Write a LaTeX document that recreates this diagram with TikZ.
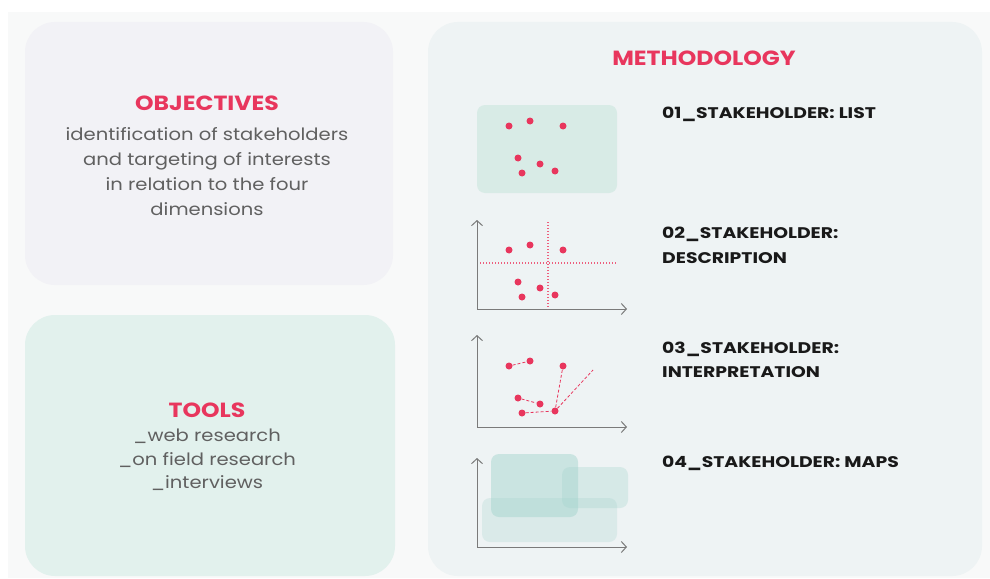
\documentclass[tikz,border=0pt]{standalone}
\usepackage{fontspec}
\setmainfont{Poppins}
\newfontfamily\widefont[FakeStretch=1.15]{Poppins}
\newfontfamily\capsfont[FakeStretch=1.22]{Poppins}
\usepackage{tikz}
\usetikzlibrary{arrows.meta,positioning,calc}

\definecolor{accent}{HTML}{E8365D}
\definecolor{pagegray}{HTML}{F8F9F9}
\definecolor{objfill}{HTML}{F2F2F6}
\definecolor{toolfill}{HTML}{E2F1ED}
\definecolor{methfill}{HTML}{EEF3F4}
\definecolor{listfill}{HTML}{D8EBE6}
\definecolor{mapteal}{HTML}{9FD2CB}
\definecolor{axisgray}{HTML}{7A7A7A}
\definecolor{bodygray}{HTML}{606060}

\tikzset{
  panel/.style={rounded corners=30pt, draw=none},
  heading/.style={text=accent, font=\widefont\bfseries\fontsize{20.5}{25}\selectfont},
  body/.style={text=bodygray, align=center},
  steplabel/.style={anchor=west, align=left, inner sep=0pt, text=black!90,
    font=\capsfont\bfseries\fontsize{15.4}{24.5}\selectfont},
  dot/.style={circle, fill=accent, inner sep=0pt, minimum size=7pt},
  axis/.style={draw=axisgray, line width=1pt,
    {Straight Barb[length=5pt,width=11pt]}-{Straight Barb[length=5pt,width=11pt]}},
  link/.style={draw=accent, dashed, line width=0.8pt, dash pattern=on 3pt off 2pt},
  cross/.style={draw=accent!80, line width=1.1pt, dash pattern=on 1pt off 2pt}
}

\begin{document}
\begin{tikzpicture}[x=1pt,y=-1pt]
\useasboundingbox (0,0) rectangle (990,578);
% Page
\fill[white] (0,0) rectangle (990,578);
\fill[pagegray] (8,12) rectangle (990,578);

% Panels
\fill[panel,objfill] (25,22) rectangle (393,285);
\fill[panel,toolfill] (25,315) rectangle (395,576);
\fill[panel,methfill] (428,22) rectangle (982,576);

% Objectives
\node[heading] (objtitle) at (207,103) {OBJECTIVES};
\node[body,font=\widefont\fontsize{17}{25}\selectfont] (objtext) at (207,172)
  {identification of stakeholders\\and targeting of interests\\in relation to the four\\dimensions};

% Tools
\node[heading] (tooltitle) at (207,410) {TOOLS};
\node[body,font=\widefont\fontsize{17}{23.5}\selectfont] (tooltext) at (207,460)
  {\_web research\\\_on field research\\\_interviews};

% Methodology
\node[heading] (methtitle) at (704,58) {METHODOLOGY};
\node[steplabel] (step1) at (662,114) {01\_STAKEHOLDER: LIST};
\node[steplabel] (step2) at (662,245.5) {02\_STAKEHOLDER:\\DESCRIPTION};
\node[steplabel] (step3) at (662,360) {03\_STAKEHOLDER:\\INTERPRETATION};
\node[steplabel] (step4) at (662,463) {04\_STAKEHOLDER: MAPS};

% Icon 1: list box
\fill[listfill,rounded corners=8pt] (477,105) rectangle (617,193);

% Icon axes
\foreach \k/\top/\base in {2/220/309,3/335/427,4/458/547}{
  \coordinate (ytop\k) at (477,\top);
  \coordinate (xend\k) at (627,\base);
  \draw[axis] (ytop\k) |- (xend\k);
}

% Icon 4: maps
\fill[mapteal,opacity=0.25,rounded corners=8pt] (482,498) rectangle (617,542);
\fill[mapteal,opacity=0.45,rounded corners=8pt] (491,454) rectangle (578,517);
\fill[mapteal,opacity=0.3,rounded corners=8pt] (562,467) rectangle (628,508);

% Icon 2: quadrant lines
\coordinate (vtop) at (548,222);
\coordinate (vbot) at (548,309);
\coordinate (hleft) at (480,263);
\coordinate (hright) at (617,263);
\draw[cross] (vtop) -- (vbot);
\draw[cross] (hleft) -- (hright);

% Stakeholder dots
\foreach \k/\dy in {1/0,2/124,3/240}{
  \foreach \j/\x/\y in {1/509/126,2/530/121,3/563/126,4/518/158,5/540/164,6/522/173,7/555/171}
    \node[dot] (d\k\j) at (\x,\y+\dy) {};
}

% Icon 3: relations
\coordinate (trend) at (593,370);
\draw[link] (d31) -- (d32);
\draw[link] (d34) -- (d35);
\draw[link] (d36) -- (d37);
\draw[link] (d37) -- (d33);
\draw[link] (d37) -- (trend);
\end{tikzpicture}
\end{document}
